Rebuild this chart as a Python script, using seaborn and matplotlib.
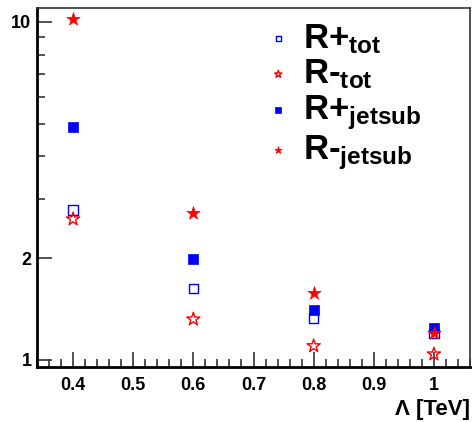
import numpy as np
import pandas as pd
import seaborn as sns
import matplotlib.pyplot as plt
from matplotlib.ticker import FixedLocator, NullFormatter, MultipleLocator, FixedFormatter

sns.set_style('white')
plt.rcParams['font.family'] = ['Liberation Sans', 'DejaVu Sans']
plt.rcParams['font.weight'] = 'bold'
plt.rcParams['text.color'] = 'black'
plt.rcParams['xtick.labelcolor'] = 'black'
plt.rcParams['ytick.labelcolor'] = 'black'
plt.rcParams['mathtext.fontset'] = 'custom'
plt.rcParams['mathtext.rm'] = 'Liberation Sans:bold'
plt.rcParams['mathtext.it'] = 'Liberation Sans:bold'
plt.rcParams['mathtext.bf'] = 'Liberation Sans:bold'

# data
lam = [0.4, 0.6, 0.8, 1.0]
r_plus_tot = [2.78, 1.63, 1.33, 1.20]
r_minus_tot = [2.61, 1.32, 1.10, 1.04]
r_plus_jetsub = [4.89, 1.99, 1.41, 1.24]
r_minus_jetsub = [10.2, 2.72, 1.575, 1.20]

series = [
    (r'R+$_{tot}$', r_plus_tot, 's', True),
    (r'R-$_{tot}$', r_minus_tot, '*', True),
    (r'R+$_{jetsub}$', r_plus_jetsub, 's', False),
    (r'R-$_{jetsub}$', r_minus_jetsub, '*', False),
]

fig = plt.figure(figsize=(4.76, 4.22), dpi=100)
ax = fig.add_axes([37/476, 1-367/422, 433/476, 359/422])

for name, vals, mk, hollow in series:
    col = 'blue' if mk == 's' else 'red'
    sz = 45 if mk == 's' else 100
    if hollow:
        sns.scatterplot(x=lam, y=vals, marker=mk, s=sz, ax=ax, label=name,
                        facecolors='none', edgecolors=col, linewidth=1.0)
    else:
        sns.scatterplot(x=lam, y=vals, marker=mk, s=sz, ax=ax, label=name,
                        color=col, edgecolor=col, linewidth=0.5)

ax.set_yscale('log')
ax.set_xlim(0.34, 1.06)
ax.set_ylim(0.953, 11.0)

ax.yaxis.set_major_locator(FixedLocator([1, 2, 10]))
ax.yaxis.set_major_formatter(FixedFormatter(['1', '2', '10']))
ax.yaxis.set_minor_locator(FixedLocator([3, 4, 5, 6, 7, 8, 9]))
ax.yaxis.set_minor_formatter(NullFormatter())
ax.set_xticks([0.4, 0.5, 0.6, 0.7, 0.8, 0.9, 1.0])
ax.set_xticklabels(['0.4', '0.5', '0.6', '0.7', '0.8', '0.9', '1'])
ax.xaxis.set_minor_locator(MultipleLocator(0.02))

ax.tick_params(axis='both', which='both', direction='in', labelsize=13,
               top=False, right=False, bottom=True, left=True,
               color='#333333', width=1.2, labelcolor='black')
ax.tick_params(axis='both', which='major', length=11, pad=7)
ax.tick_params(axis='both', which='minor', length=6)
ax.tick_params(axis='y', which='major', pad=4)
for lbl in ax.get_xticklabels() + ax.get_yticklabels():
    lbl.set_fontweight('bold')

for sp in ax.spines.values():
    sp.set_color('#333333')
    sp.set_linewidth(1.2)
ax.spines['bottom'].set_color('black')
ax.spines['left'].set_color('black')
ax.spines['bottom'].set_linewidth(2)
ax.spines['left'].set_linewidth(2)

ax.set_xlabel('')
ax.set_ylabel('')
fig.text(470/476, 1-410/422, 'Λ [TeV]', fontsize=16, fontweight='bold',
         ha='right', va='center', color='black')

leg = ax.legend(loc='upper left', bbox_to_anchor=(0.485, 1.0), frameon=False,
                fontsize=25, handletextpad=0.2, handlelength=1.0, labelspacing=0.05,
                markerscale=0.55, borderaxespad=0, labelcolor='black')

fig.savefig('out.png', dpi=100)
